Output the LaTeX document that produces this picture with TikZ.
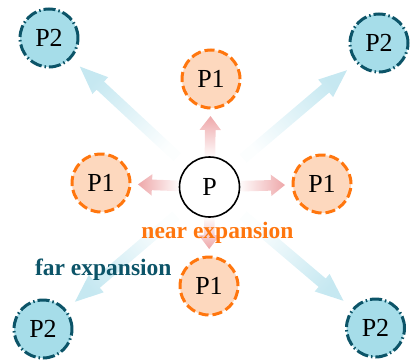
\documentclass[tikz,border=0pt]{standalone}
\usepackage{fontspec}
\setmainfont{Liberation Serif}
\usetikzlibrary{calc}
\definecolor{nearorange}{RGB}{255,118,14}
\definecolor{nearfill}{RGB}{253,216,190}
\definecolor{nearpink}{RGB}{238,168,170}
\definecolor{farteal}{RGB}{12,84,104}
\definecolor{farfill}{RGB}{166,221,233}
\definecolor{farblue}{RGB}{198,232,241}
\pgfdeclarelayer{background}
\pgfsetlayers{background,main}
\tikzset{
  exp root/.style={
    circle,draw=black,fill=white,line width=1.6pt,minimum size=60pt,
    inner sep=0pt,font=\fontsize{26}{26}\selectfont
  },
  exp near/.style={
    circle,draw=nearorange,fill=nearfill,line width=3pt,minimum size=58pt,
    dash pattern=on 10pt off 4pt,inner sep=0pt,font=\fontsize{26}{26}\selectfont
  },
  exp far/.style={
    circle,draw=farteal,fill=farfill,line width=3pt,minimum size=58pt,
    dash pattern=on 12pt off 3pt on 1.5pt off 3pt,inner sep=0pt,
    font=\fontsize{26}{26}\selectfont
  },
  exp tag/.style={font=\fontsize{23.5}{23.5}\selectfont\bfseries,inner sep=0pt}
}
% fat arrow from #1 to #2, colour #3, gaps #4/#5 from the centres,
% half shaft #6, half head #7, head length #8
\newcommand{\fadearrow}[8]{%
  \path let \p1=($(#2.center)-(#1.center)$) in
    \pgfextra{\pgfmathsetmacro{\tmpang}{atan2(\y1,\x1)}\global\let\arrang\tmpang
      \pgfmathsetmacro{\tmpsh}{\tmpang-90}\global\let\arrsh\tmpsh
      \pgfmathsetmacro{\tmplen}{veclen(\x1,\y1)}\global\let\arrlen\tmplen};
  \begin{scope}[shift={(#1.center)},rotate=\arrang]
    \shade[top color=#3,bottom color=#3!6,shading angle=\arrsh]
      (#4,-#6) -- ({\arrlen-#5-#8},-#6) -- ({\arrlen-#5-#8},-#7)
      -- ({\arrlen-#5},0) -- ({\arrlen-#5-#8},#7) -- ({\arrlen-#5-#8},#6)
      -- (#4,#6) -- cycle;
  \end{scope}%
}

\begin{document}
\begin{tikzpicture}[x=1pt,y=1pt]
  \useasboundingbox (0,0) rectangle (411,360);
  \node[exp root] (p) at (209.5,173) {P};
  \node[exp near] (n1) at (211,281) {P1};
  \node[exp near] (w1) at (101,177) {P1};
  \node[exp near] (e1) at (322,176) {P1};
  \node[exp near] (s1) at (209,74) {P1};
  \node[exp far] (nw2) at (49,322) {P2};
  \node[exp far] (ne2) at (379,317) {P2};
  \node[exp far] (sw2) at (43,31) {P2};
  \node[exp far] (se2) at (375.5,32) {P2};
  \begin{pgfonlayer}{background}
    \fadearrow{p}{nw2}{farblue}{44}{42}{5.5}{11.5}{28}
    \fadearrow{p}{ne2}{farblue}{44}{42}{5.5}{11.5}{28}
    \fadearrow{p}{sw2}{farblue}{44}{42}{5.5}{11.5}{28}
    \fadearrow{p}{se2}{farblue}{44}{42}{5.5}{11.5}{28}
    \fadearrow{p}{n1}{nearpink}{31}{37}{5.3}{10.7}{14}
    \fadearrow{p}{w1}{nearpink}{31}{37}{5.3}{10.7}{14}
    \fadearrow{p}{e1}{nearpink}{31}{37}{5.3}{10.7}{14}
    \fadearrow{p}{s1}{nearpink}{31}{37}{5.3}{10.7}{14}
  \end{pgfonlayer}
  \node[exp tag,text=nearorange] (neartag) at (217.5,127.2) {near expansion};
  \node[exp tag,text=farteal] (fartag) at (103.3,90) {far expansion};
\end{tikzpicture}
\end{document}
